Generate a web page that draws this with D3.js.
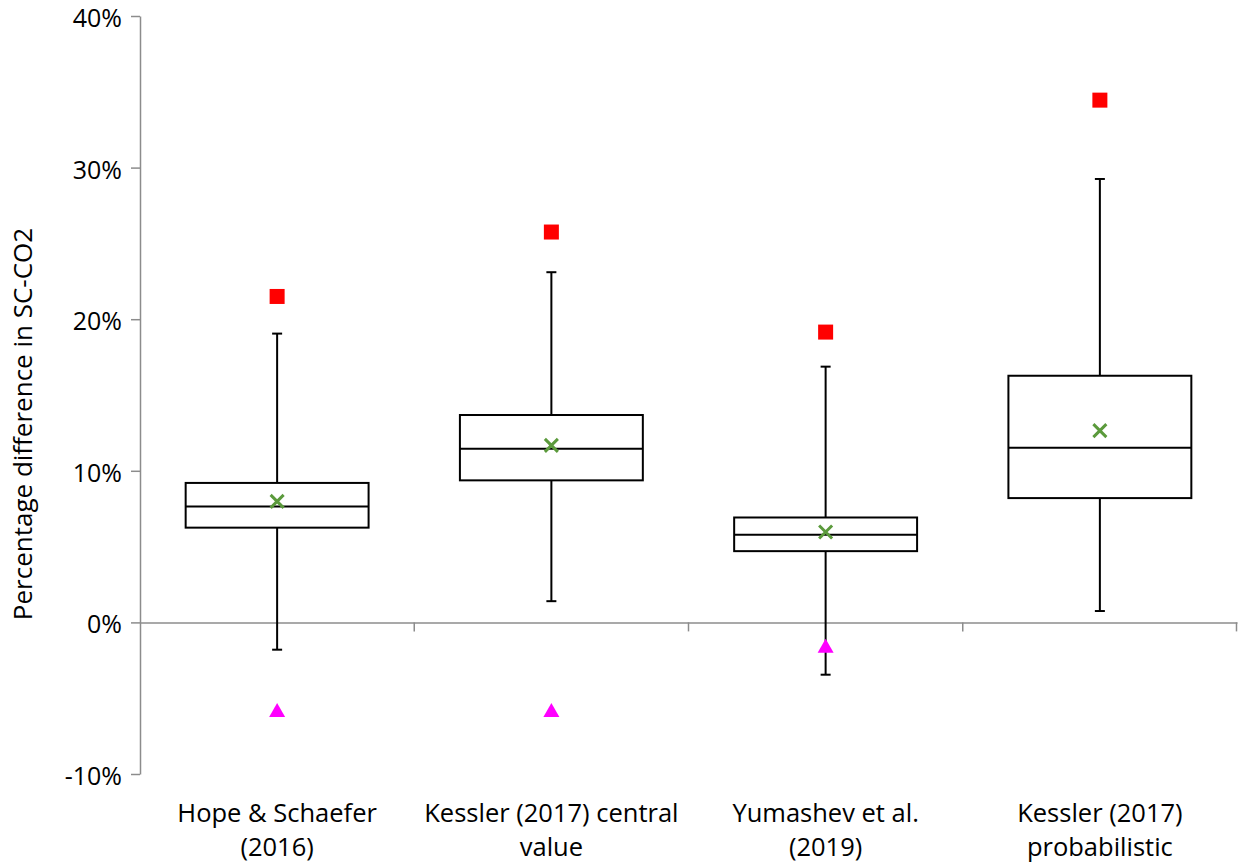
<!DOCTYPE html>
<html>
<head>
<meta charset="utf-8">
<script src="https://cdn.jsdelivr.net/npm/d3@7"></script>
<style>
  body { margin: 0; background: #fff; }
  svg { font-family: "Open Sans", sans-serif; }
</style>
</head>
<body>
<svg id="chart" width="1238" height="865"></svg>
<script>
// category labels, one entry per line
const categories = [
  ["Hope & Schaefer", "(2016)"],
  ["Kessler (2017) central", "value"],
  ["Yumashev et al.", "(2019)"],
  ["Kessler (2017)", "probabilistic"]
];

// box plot stats, in percent
const whiskerLow = [-1.8, 1.4, -3.45, 0.75];
const q1 = [6.25, 9.37, 4.7, 8.2];
const median = [7.65, 11.45, 5.78, 11.52];
const q3 = [9.2, 13.68, 6.92, 16.27];
const whiskerHigh = [19.05, 23.1, 16.87, 29.25];
const mean = [7.98, 11.68, 5.96, 12.65];

// extra markers
const squareVals = [21.5, 25.75, 19.15, 34.45];
const triangleVals = [-5.85, -5.85, -1.6, null];

const yTicks = [-10, 0, 10, 20, 30, 40];

const svg = d3.select("#chart");
const margin = { left: 140, right: 1, top: 16, bottom: 91 };
const W = 1238, H = 865;

const x = d3.scaleBand()
  .domain(d3.range(categories.length))
  .range([margin.left, W - margin.right])
  .paddingInner(0)
  .paddingOuter(0);

const y = d3.scaleLinear()
  .domain([-10, 40])
  .range([774, 16]);

const AXIS_COLOR = "#8c8c8c";

// y axis
const yAxis = svg.append("g")
  .attr("transform", `translate(${margin.left},0)`)
  .call(d3.axisLeft(y).tickValues(yTicks).tickSize(9).tickSizeOuter(0).tickPadding(9)
    .tickFormat(d => d + "%"));
yAxis.select(".domain").attr("stroke", AXIS_COLOR).attr("stroke-width", 1.5);
yAxis.selectAll(".tick line").attr("stroke", AXIS_COLOR).attr("stroke-width", 1.5);
yAxis.selectAll(".tick text")
  .attr("font-size", 25)
  .attr("dy", "0.42em")
  .attr("fill", "#000")
  .attr("font-family", "'Open Sans', sans-serif");

// zero line with category separators
const xAxis = svg.append("g")
  .attr("transform", `translate(0,${y(0)})`)
  .call(d3.axisBottom(x).tickSize(0).tickFormat(""));
xAxis.select(".domain").attr("stroke", AXIS_COLOR).attr("stroke-width", 1.5);
xAxis.selectAll(".tick").remove();

svg.append("g").selectAll("line")
  .data(d3.range(1, categories.length + 1))
  .enter()
  .append("line")
  .attr("x1", i => i < categories.length ? x(i) : W - 1.5)
  .attr("x2", i => i < categories.length ? x(i) : W - 1.5)
  .attr("y1", y(0))
  .attr("y2", y(0) + 9)
  .attr("stroke", AXIS_COLOR)
  .attr("stroke-width", 1.5);

// category labels
const labels = svg.append("g").selectAll("text")
  .data(categories)
  .enter()
  .append("text")
  .attr("x", (d, i) => x(i) + x.bandwidth() / 2)
  .attr("y", 822)
  .attr("text-anchor", "middle")
  .attr("font-size", 25.5)
  .attr("fill", "#000");
labels.selectAll("tspan")
  .data(d => d)
  .enter()
  .append("tspan")
  .attr("x", function () { return d3.select(this.parentNode).attr("x"); })
  .attr("dy", (d, j) => j === 0 ? 0 : 34)
  .text(d => d);

// y axis title
svg.append("text")
  .attr("transform", `translate(32,424) rotate(-90)`)
  .attr("text-anchor", "middle")
  .attr("font-size", 26)
  .attr("fill", "#000")
  .text("Percentage difference in SC-CO2");

const BOX_W = x.bandwidth() * 0.667;
const CAP_W = 10;
const cx = i => x(i) + x.bandwidth() / 2;
const idx = d3.range(categories.length);
const plot = svg.append("g");

// whiskers
plot.selectAll("line.whisker")
  .data(idx)
  .enter()
  .append("line")
  .attr("class", "whisker")
  .attr("x1", cx).attr("x2", cx)
  .attr("y1", i => y(whiskerHigh[i]))
  .attr("y2", i => y(whiskerLow[i]))
  .attr("stroke", "#000").attr("stroke-width", 2);

[whiskerHigh, whiskerLow].forEach(arr => {
  plot.append("g").selectAll("line")
    .data(idx)
    .enter()
    .append("line")
    .attr("x1", i => cx(i) - CAP_W / 2)
    .attr("x2", i => cx(i) + CAP_W / 2)
    .attr("y1", i => y(arr[i]))
    .attr("y2", i => y(arr[i]))
    .attr("stroke", "#000").attr("stroke-width", 2);
});

// boxes
plot.selectAll("rect.box")
  .data(idx)
  .enter()
  .append("rect")
  .attr("class", "box")
  .attr("x", i => cx(i) - BOX_W / 2)
  .attr("width", BOX_W)
  .attr("y", i => y(q3[i]))
  .attr("height", i => y(q1[i]) - y(q3[i]))
  .attr("fill", "#fff")
  .attr("stroke", "#000")
  .attr("stroke-width", 2);

// medians
plot.selectAll("line.median")
  .data(idx)
  .enter()
  .append("line")
  .attr("class", "median")
  .attr("x1", i => cx(i) - BOX_W / 2)
  .attr("x2", i => cx(i) + BOX_W / 2)
  .attr("y1", i => y(median[i]))
  .attr("y2", i => y(median[i]))
  .attr("stroke", "#000").attr("stroke-width", 2);

// means (x markers)
const MS = 6.5;
plot.selectAll("path.mean")
  .data(idx)
  .enter()
  .append("path")
  .attr("class", "mean")
  .attr("d", i => {
    const px = cx(i), py = y(mean[i]);
    return `M${px - MS},${py - MS}L${px + MS},${py + MS}M${px - MS},${py + MS}L${px + MS},${py - MS}`;
  })
  .attr("stroke", "#5b9a3c")
  .attr("stroke-width", 3);

// red squares
plot.selectAll("rect.sq")
  .data(idx)
  .enter()
  .append("rect")
  .attr("class", "sq")
  .attr("x", i => cx(i) - 7.5)
  .attr("y", i => y(squareVals[i]) - 7.5)
  .attr("width", 15).attr("height", 15)
  .attr("fill", "#ff0000");

// magenta triangles
plot.selectAll("path.tri")
  .data(idx.filter(i => triangleVals[i] !== null))
  .enter()
  .append("path")
  .attr("class", "tri")
  .attr("transform", i => `translate(${cx(i)},${y(triangleVals[i])})`)
  .attr("d", "M0,-8L8,6L-8,6Z")
  .attr("fill", "#ff00ff");
</script>
</body>
</html>
